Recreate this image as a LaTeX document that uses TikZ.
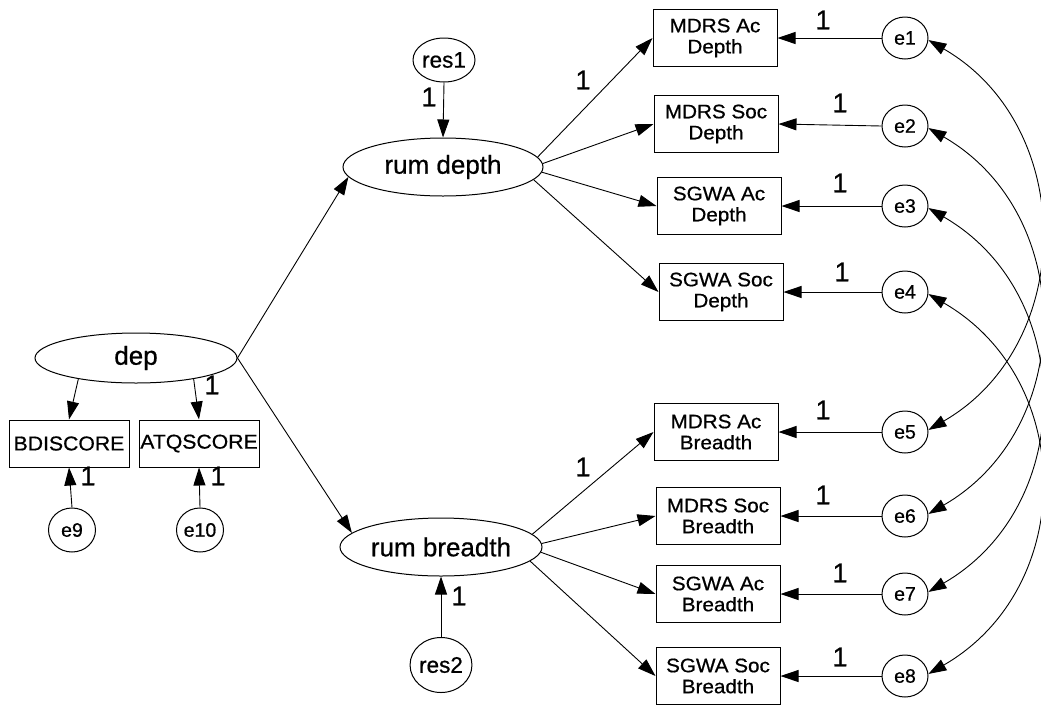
\documentclass[tikz,border=0pt]{standalone}
\usepackage{fontspec}
\setmainfont{Liberation Sans}[UprightFeatures={FakeBold=0.7}]
\newfontfamily\boxfont{Liberation Sans}[FakeStretch=1.06,FakeBold=0.7]
\usetikzlibrary{arrows.meta,shapes.geometric}
\begin{document}
\begin{tikzpicture}[x=1pt,y=-1pt,
  obs/.style={draw,line width=1pt,rectangle,minimum width=124pt,minimum height=57pt,inner sep=0pt,align=center,font=\boxfont\fontsize{19.5}{21}\selectfont},
  obsl/.style={obs,minimum width=120pt,minimum height=47pt,font=\boxfont\fontsize{20}{21}\selectfont},
  lat/.style={draw,line width=1pt,ellipse,minimum width=200pt,minimum height=58pt,inner sep=0pt,font=\fontsize{26}{28}\selectfont},
  err/.style={draw,line width=1pt,ellipse,minimum width=46pt,minimum height=42pt,inner sep=0pt,font=\fontsize{19.5}{21}\selectfont},
  one/.style={font=\fontsize{27}{28}\selectfont,inner sep=0pt},
  arr/.style={line width=0.9pt,-{Triangle[length=18pt,width=12pt]}},
  cov/.style={line width=0.9pt,{Triangle[length=18pt,width=12pt]}-{Triangle[length=18pt,width=12pt]}},
]
\useasboundingbox (0,0) rectangle (1041,705);
% latent variables
\node[lat,minimum width=202pt,minimum height=50pt] (dep) at (136,358) {dep};
\node[lat] (rd) at (443,167) {rum depth};
\node[lat,minimum width=202pt] (rb) at (441,547) {rum breadth};
\node[err,minimum width=62pt,minimum height=44pt,font=\fontsize{22.5}{24}\selectfont] (res1) at (444,60) {res1};
\node[err,minimum width=60pt,minimum height=55pt,font=\fontsize{22.5}{24}\selectfont] (res2) at (441,665) {res2};
% left indicators
\node[obsl] (bdi) at (69,443.5) {BDISCORE};
\node[obsl] (atq) at (199,443.5) {ATQSCORE};
\node[err,minimum width=47pt,minimum height=44pt] (e9) at (72,530) {e9};
\node[err,minimum width=47pt,minimum height=44pt] (e10) at (200,530) {e10};
% right indicators
\node[obs] (b1) at (715,38) {MDRS Ac\\Depth};
\node[obs] (b2) at (716,124) {MDRS Soc\\Depth};
\node[obs] (b3) at (719,206) {SGWA Ac\\Depth};
\node[obs] (b4) at (721,292) {SGWA Soc\\Depth};
\node[obs] (b5) at (716,432) {MDRS Ac\\Breadth};
\node[obs] (b6) at (718,516) {MDRS Soc\\Breadth};
\node[obs] (b7) at (718,594) {SGWA Ac\\Breadth};
\node[obs] (b8) at (718,676) {SGWA Soc\\Breadth};
% errors
\node[err] (e1) at (905,38) {e1};
\node[err] (e2) at (905,126) {e2};
\node[err] (e3) at (905,206) {e3};
\node[err] (e4) at (905,292) {e4};
\node[err] (e5) at (905,432) {e5};
\node[err] (e6) at (905,516) {e6};
\node[err] (e7) at (905,594) {e7};
\node[err] (e8) at (905,676) {e8};
% structural paths
\draw[arr] (dep.east) -- (rd.186);
\draw[arr] (dep.east) -- (rb.171);
\draw[arr] (res1.south) -- (rd.north);
\draw[arr] (res2.north) -- (rb.south);
\draw[arr] (dep.200) -- (bdi.north);
\draw[arr] (dep.-20) -- (atq.north);
\draw[arr] (e9.north) -- (bdi.south);
\draw[arr] (e10.north) -- (atq.south);
% loadings
\draw[arr] (rd.6) -- (b1.west);
\draw[arr] (rd.2) -- (b2.west);
\draw[arr] (rd.-3) -- (b3.west);
\draw[arr] (rd.-8) -- (b4.west);
\draw[arr] (rb.8) -- (b5.west);
\draw[arr] (rb.2) -- (b6.west);
\draw[arr] (rb.-3) -- (b7.west);
\draw[arr] (rb.-9) -- (b8.west);
% error paths
\foreach \i in {1,...,8} {\draw[arr] (e\i.west) -- (b\i.east);}
% covariances
\draw[cov] (e1.-5) .. controls (1077,126) and (1077,344) .. (e5.5);
\draw[cov] (e2.-5) .. controls (1077,214) and (1077,428) .. (e6.5);
\draw[cov] (e3.-5) .. controls (1077,294) and (1077,506) .. (e7.5);
\draw[cov] (e4.-5) .. controls (1077,380) and (1077,588) .. (e8.5);
% labels
\node[one] (l1) at (823,20) {1};
\node[one] (l2) at (840,103) {1};
\node[one] (l3) at (840,183) {1};
\node[one] (l4) at (842,272) {1};
\node[one] (l5) at (823,410) {1};
\node[one] (l6) at (823,495) {1};
\node[one] (l7) at (840,573) {1};
\node[one] (l8) at (840,657) {1};
\node[one] (lrd) at (583,80) {1};
\node[one] (lrb) at (583,467) {1};
\node[one] (lr1) at (429,97) {1};
\node[one] (lr2) at (459,596) {1};
\node[one] (latq) at (212,385) {1};
\node[one] (le9) at (88,476) {1};
\node[one] (le10) at (218,476) {1};
\end{tikzpicture}
\end{document}
